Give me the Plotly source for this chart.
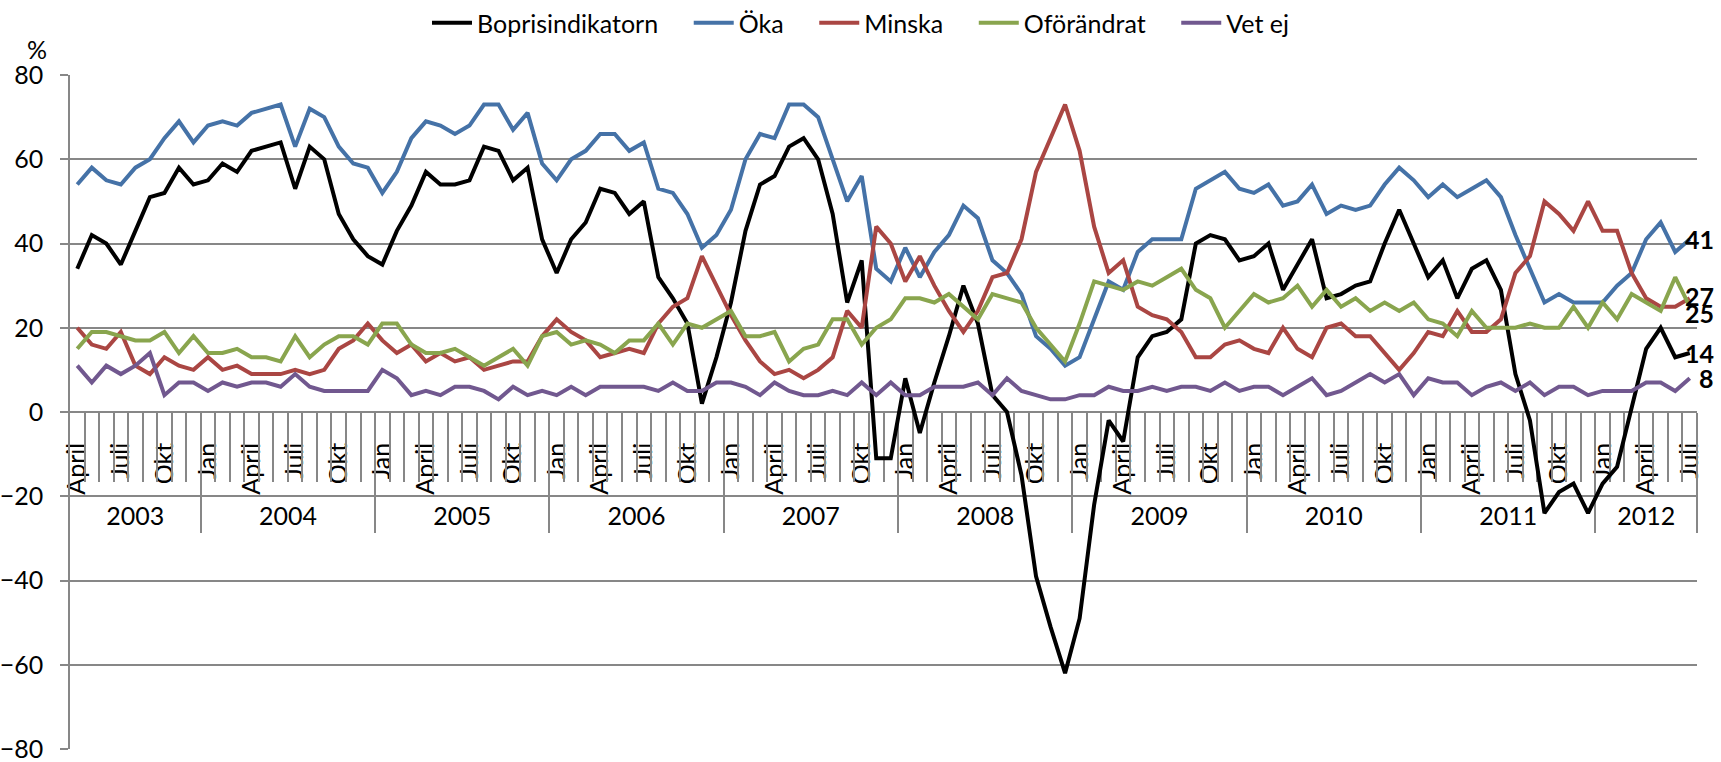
import plotly.graph_objects as go

# ---------------- data ----------------
years = ["2003", "2004", "2005", "2006", "2007", "2008", "2009", "2010", "2011", "2012"]
month_names = ["Jan", "Feb", "Mars", "April", "Maj", "Juni", "Juli", "Aug", "Sep", "Okt", "Nov", "Dec"]
shown_months = ["Jan", "April", "Juli", "Okt"]
first_year, first_month, n_months = 2003, 3, 112  # April 2003 .. Juli 2012

boprisindikatorn = [34, 42, 40, 35, 43, 51, 52, 58, 54,
                    55, 59, 57, 62, 63, 64, 53, 63, 60, 47, 41, 37,
                    35, 43, 49, 57, 54, 54, 55, 63, 62, 55, 58, 41,
                    33, 41, 45, 53, 52, 47, 50, 32, 27, 21, 2, 13,
                    26, 43, 54, 56, 63, 65, 60, 47, 26, 36, -11, -11,
                    8, -5, 7, 18, 30, 21, 4, 0, -15, -39, -51, -62,
                    -49, -22, -2, -7, 13, 18, 19, 22, 40, 42, 41, 36,
                    37, 40, 29, 35, 41, 27, 28, 30, 31, 40, 48, 40,
                    32, 36, 27, 34, 36, 29, 9, -2, -24, -19, -17, -24,
                    -17, -13, 1, 15, 20, 13, 14]
oka = [54, 58, 55, 54, 58, 60, 65, 69, 64,
       68, 69, 68, 71, 72, 73, 63, 72, 70, 63, 59, 58,
       52, 57, 65, 69, 68, 66, 68, 73, 73, 67, 71, 59,
       55, 60, 62, 66, 66, 62, 64, 53, 52, 47, 39, 42,
       48, 60, 66, 65, 73, 73, 70, 60, 50, 56, 34, 31,
       39, 32, 38, 42, 49, 46, 36, 33, 28, 18, 15, 11,
       13, 22, 31, 29, 38, 41, 41, 41, 53, 55, 57, 53,
       52, 54, 49, 50, 54, 47, 49, 48, 49, 54, 58, 55,
       51, 54, 51, 53, 55, 51, 42, 34, 26, 28, 26, 26,
       26, 30, 33, 41, 45, 38, 41]
minska = [20, 16, 15, 19, 11, 9, 13, 11, 10,
          13, 10, 11, 9, 9, 9, 10, 9, 10, 15, 17, 21,
          17, 14, 16, 12, 14, 12, 13, 10, 11, 12, 12, 18,
          22, 19, 17, 13, 14, 15, 14, 21, 25, 27, 37, 30,
          23, 17, 12, 9, 10, 8, 10, 13, 24, 20, 44, 40,
          31, 37, 30, 24, 19, 24, 32, 33, 41, 57, 65, 73,
          62, 44, 33, 36, 25, 23, 22, 19, 13, 13, 16, 17,
          15, 14, 20, 15, 13, 20, 21, 18, 18, 14, 10, 14,
          19, 18, 24, 19, 19, 22, 33, 37, 50, 47, 43, 50,
          43, 43, 33, 27, 25, 25, 27]
oforandrat = [15, 19, 19, 18, 17, 17, 19, 14, 18,
              14, 14, 15, 13, 13, 12, 18, 13, 16, 18, 18, 16,
              21, 21, 16, 14, 14, 15, 13, 11, 13, 15, 11, 18,
              19, 16, 17, 16, 14, 17, 17, 21, 16, 21, 20, 22,
              24, 18, 18, 19, 12, 15, 16, 22, 22, 16, 20, 22,
              27, 27, 26, 28, 25, 22, 28, 27, 26, 20, 16, 12,
              21, 31, 30, 29, 31, 30, 32, 34, 29, 27, 20, 24,
              28, 26, 27, 30, 25, 29, 25, 27, 24, 26, 24, 26,
              22, 21, 18, 24, 20, 20, 20, 21, 20, 20, 25, 20,
              26, 22, 28, 26, 24, 32, 25]
vet_ej = [11, 7, 11, 9, 11, 14, 4, 7, 7,
          5, 7, 6, 7, 7, 6, 9, 6, 5, 5, 5, 5,
          10, 8, 4, 5, 4, 6, 6, 5, 3, 6, 4, 5,
          4, 6, 4, 6, 6, 6, 6, 5, 7, 5, 5, 7,
          7, 6, 4, 7, 5, 4, 4, 5, 4, 7, 4, 7,
          4, 4, 6, 6, 6, 7, 4, 8, 5, 4, 3, 3,
          4, 4, 6, 5, 5, 6, 5, 6, 6, 5, 7, 5,
          6, 6, 4, 6, 8, 4, 5, 7, 9, 7, 9, 4,
          8, 7, 7, 4, 6, 7, 5, 7, 4, 6, 6, 4,
          5, 5, 5, 7, 7, 5, 8]

series_names = ["Boprisindikatorn", "Öka", "Minska", "Oförändrat", "Vet ej"]
series_values = [boprisindikatorn, oka, minska, oforandrat, vet_ej]
series_colors = ["#000000", "#4572A7", "#AA4643", "#89A54E", "#71588F"]
label_yshift = [0, 0, 2, -6, 0]

# ---------------- category structure ----------------
cat_year, cat_month = [], []
for k in range(n_months):
    m = first_month + k
    cat_year.append(str(first_year + m // 12))
    cat_month.append(month_names[m % 12])
x = list(range(n_months))

month_tickvals = [i for i in x if cat_month[i] in shown_months]
month_ticktext = [cat_month[i] for i in month_tickvals]
boundaries = [i + 0.5 for i in x]
year_bounds = [i + 0.5 for i in x[:-1] if cat_year[i] != cat_year[i + 1]] + [n_months - 0.5]
year_centers = []
for y in years:
    idx = [i for i in x if cat_year[i] == y]
    year_centers.append((idx[0] + idx[-1]) / 2)

FONT = "Lato, Carlito, 'Liberation Sans', sans-serif"
GRID = "#878787"
FS = 25
PAD = "\u00a0" * 4

fig = go.Figure()
for k, (name, vals, col) in enumerate(zip(series_names, series_values, series_colors)):
    legend_name = name + (PAD if k < len(series_names) - 1 else "")
    fig.add_trace(go.Scatter(x=x, y=vals, mode="lines", name=legend_name,
                             line=dict(color=col, width=4)))

for vals, ys in zip(series_values, label_yshift):
    fig.add_annotation(x=x[-1], y=vals[-1], xref="x", yref="y", text=f"<b>{vals[-1]}</b>",
                       showarrow=False, xanchor="right", xshift=26, yshift=ys,
                       font=dict(size=FS, color="black", family=FONT))

fig.add_annotation(x=-0.02, y=1.038, xref="paper", yref="paper", text="%", showarrow=False,
                   xanchor="center", yanchor="middle", font=dict(size=FS, color="black", family=FONT))

rng = [-0.5, n_months - 0.5]
common = dict(range=rng, anchor="free", position=0.5, showgrid=False, zeroline=False,
              automargin=False, layer="below traces")

fig.update_layout(
    width=1721, height=762,
    margin=dict(l=70, r=24, t=75, b=13),
    paper_bgcolor="white", plot_bgcolor="white",
    font=dict(family=FONT, size=FS, color="black"),
    showlegend=True,
    legend=dict(orientation="h", x=0.5, xanchor="center", xref="container",
                y=1.0, yanchor="top", yref="container",
                font=dict(size=FS, family=FONT), itemwidth=40,
                bgcolor="rgba(0,0,0,0)", traceorder="normal"),
    xaxis=dict(**common, tickmode="array", tickvals=month_tickvals, ticktext=month_ticktext,
               tickangle=-90, ticks="", showline=True, linecolor=GRID, linewidth=1.5,
               ticklabelstandoff=20, tickfont=dict(size=FS, color="black")),
    xaxis2=dict(**common, overlaying="x", tickmode="array", tickvals=boundaries, ticks="outside",
                ticklen=69, tickwidth=1.5, tickcolor=GRID, showticklabels=False, showline=False),
    xaxis3=dict(**common, overlaying="x", tickmode="array", tickvals=year_bounds, ticks="outside",
                ticklen=120, tickwidth=1.5, tickcolor=GRID, showticklabels=False, showline=False),
    xaxis4=dict(**common, overlaying="x", tickmode="array", tickvals=year_centers, ticktext=years,
                ticks="", showline=False, ticklabelstandoff=87,
                tickfont=dict(size=FS, color="black")),
    yaxis=dict(range=[-80, 80], dtick=20, tick0=0, showgrid=True, gridcolor=GRID, gridwidth=1.5,
               zeroline=False, showline=True, linecolor=GRID, linewidth=1.5,
               ticks="outside", ticklen=8, tickcolor=GRID, tickwidth=1.5,
               ticklabelstandoff=12, ticklabeloverflow="allow",
               automargin=False, tickfont=dict(size=FS, color="black")),
)
# invisible anchor traces so the overlay axes are rendered
for ax in ["x2", "x3", "x4"]:
    fig.add_trace(go.Scatter(x=[x[0]], y=[0], xaxis=ax, yaxis="y", mode="markers",
                             marker=dict(opacity=0), showlegend=False, hoverinfo="skip"))

fig.write_html("out.html", config={"displayModeBar": False},
               post_script="document.body.style.margin='0';document.body.style.overflow='hidden';")
